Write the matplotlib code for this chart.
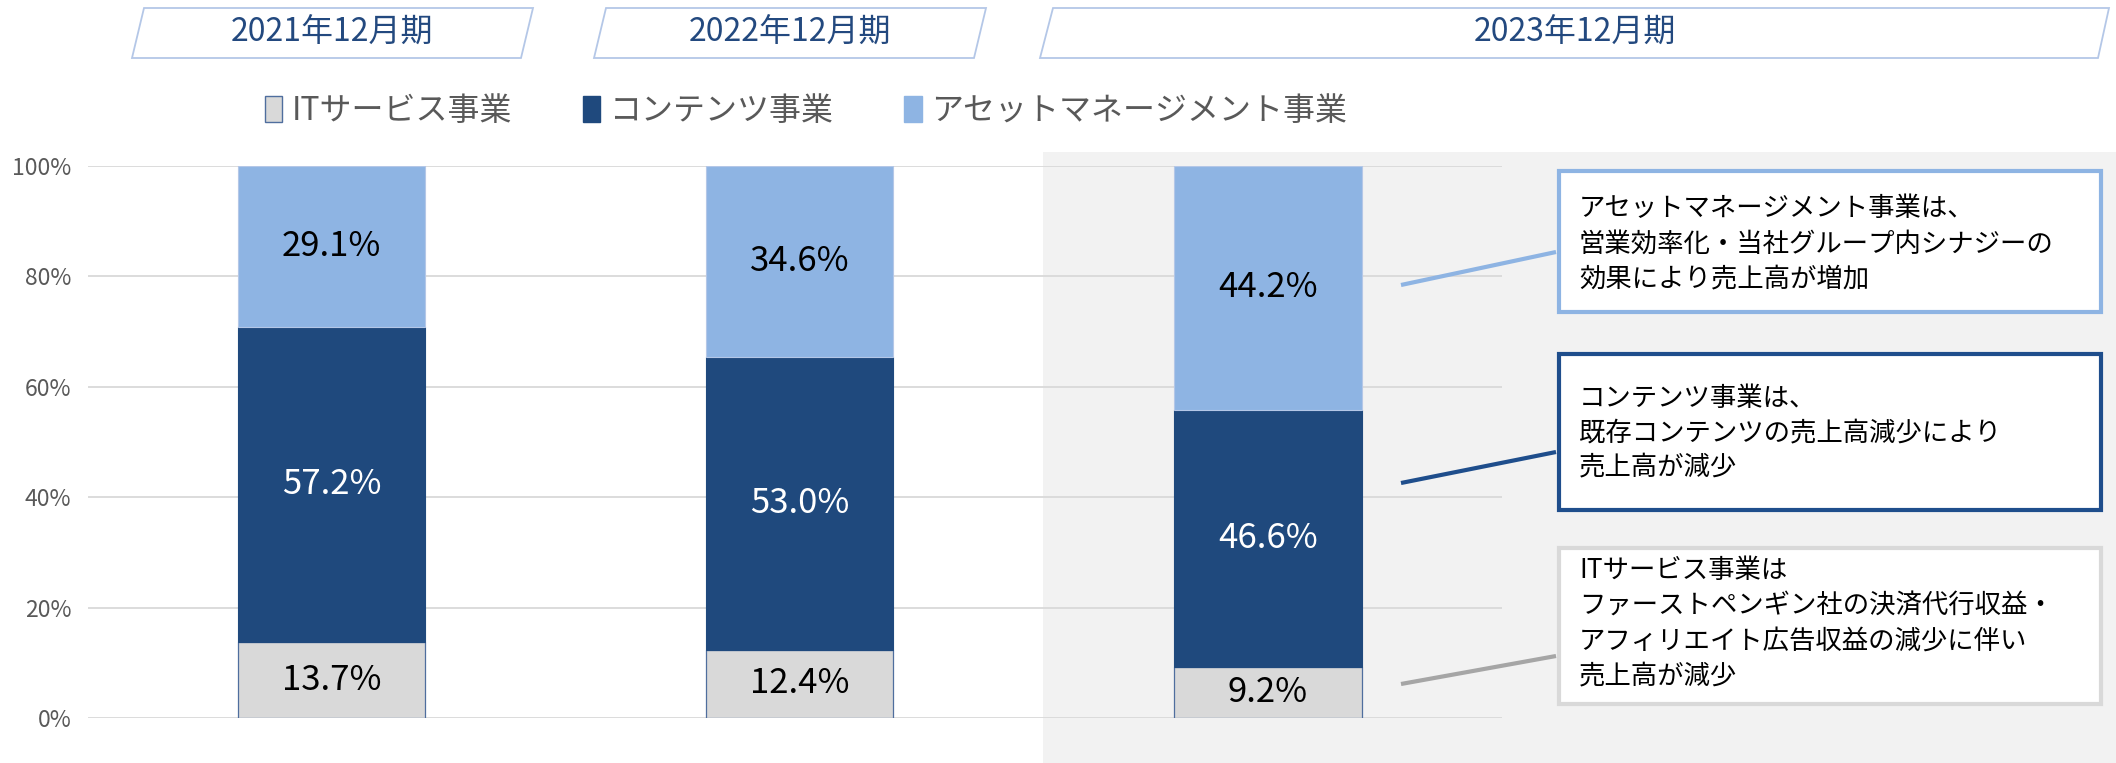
import matplotlib
matplotlib.use('Agg')
import matplotlib.pyplot as plt
from matplotlib.patches import Rectangle, Polygon
from matplotlib.lines import Line2D

plt.rcParams['font.family'] = ['Noto Sans CJK JP', 'DejaVu Sans']

# ---------------- data ----------------
periods = ['2021年12月期', '2022年12月期', '2023年12月期']
series_names = ['ITサービス事業', 'コンテンツ事業', 'アセットマネージメント事業']
it_values = [13.7, 12.4, 9.2]
contents_values = [57.2, 53.0, 46.6]
asset_values = [29.1, 34.6, 44.2]
yticks = [0, 20, 40, 60, 80, 100]
ytick_labels = ['0%', '20%', '40%', '60%', '80%', '100%']
notes = [
    ['アセットマネージメント事業は、', '営業効率化・当社グループ内シナジーの', '効果により売上高が増加'],
    ['コンテンツ事業は、', '既存コンテンツの売上高減少により', '売上高が減少'],
    ['ITサービス事業は', 'ファーストペンギン社の決済代行収益・',
     'アフィリエイト広告収益の減少に伴い', '売上高が減少'],
]

# ---------------- styles ----------------
C_IT = '#D9D9D9'
C_CONT = '#1F497D'
C_ASSET = '#8EB4E3'
C_TICK = '#595959'
C_HEAD = '#23497F'

W, H = 2116, 763
fig = plt.figure(figsize=(W / 100, H / 100), dpi=100)
fig.patch.set_facecolor('white')


def fx(px):
    return px / W


def fy(py):
    return 1 - py / H


# gray background for the latest period
fig.add_artist(Rectangle((fx(1043), 0), 1 - fx(1043), fy(152),
                         transform=fig.transFigure, facecolor='#F2F2F2',
                         edgecolor='none', zorder=-10))

ax = fig.add_axes([fx(88), fy(718), fx(1502) - fx(88), (718 - 166) / H])
ax.patch.set_visible(False)

x = list(range(len(periods)))
bw = 0.40
b1 = ax.bar(x, it_values, width=bw, color=C_IT, edgecolor='#4F6E9E', linewidth=0.9, zorder=3)
b2 = ax.bar(x, contents_values, width=bw, bottom=it_values, color=C_CONT,
            edgecolor=C_CONT, linewidth=0.8, zorder=3)
bottom3 = [a + b for a, b in zip(it_values, contents_values)]
b3 = ax.bar(x, asset_values, width=bw, bottom=bottom3, color=C_ASSET,
            edgecolor='#B4C7E7', linewidth=0.8, zorder=3)

ax.bar_label(b1, labels=[f'{v:.1f}%' for v in it_values], label_type='center',
             fontsize=25, color='black')
ax.bar_label(b2, labels=[f'{v:.1f}%' for v in contents_values], label_type='center',
             fontsize=25, color='white')
ax.bar_label(b3, labels=[f'{v:.1f}%' for v in asset_values], label_type='center',
             fontsize=25, color='black')

ax.set_xlim(-0.52, 2.5)
ax.set_ylim(0, 100)
ax.set_yticks(yticks)
ax.set_yticklabels(ytick_labels)
ax.set_xticks([])
ax.yaxis.grid(True, color='#D9D9D9', linewidth=1.3)
ax.set_axisbelow(True)
for s in ax.spines.values():
    s.set_visible(False)
ax.tick_params(axis='y', length=0, pad=12, labelsize=16.5, labelcolor=C_TICK)

# legend
handles = [Rectangle((0, 0), 1, 1, facecolor=C_IT, edgecolor='#4F6E9E', linewidth=1),
           Rectangle((0, 0), 1, 1, facecolor=C_CONT, edgecolor=C_CONT),
           Rectangle((0, 0), 1, 1, facecolor=C_ASSET, edgecolor=C_ASSET)]
fig.legend(handles, series_names, loc='center', bbox_to_anchor=(fx(806), fy(111)),
           ncol=3, frameon=False, fontsize=23, handlelength=0.55, handleheight=0.9,
           handletextpad=0.3, columnspacing=2.2, labelcolor=C_TICK)

# header parallelograms
headers = [
    [(144, 8), (533, 8), (521, 58), (132, 58)],
    [(606, 8), (986, 8), (974, 58), (594, 58)],
    [(1053, 8), (2109, 8), (2098, 58), (1040, 58)],
]
for label, pts in zip(periods, headers):
    poly = Polygon([(fx(px), fy(py)) for px, py in pts], closed=True,
                   transform=fig.transFigure, facecolor='white',
                   edgecolor='#B4C7E7', linewidth=1.3)
    fig.add_artist(poly)
    cx = sum(p[0] for p in pts) / 4
    fig.text(fx(cx), fy(33), label, ha='center', va='center', fontsize=23, color=C_HEAD)

# annotation boxes
boxes = [
    dict(rect=(1559, 171, 2101, 312), color='#8EB4E3', lines_y=[209, 244, 279],
         conn=((1401, 285), (1556, 252)), conn_color='#8EB4E3'),
    dict(rect=(1559, 354, 2101, 510), color='#1F4E8C', lines_y=[399, 433, 467],
         conn=((1401, 483), (1556, 452)), conn_color='#1F4E8C'),
    dict(rect=(1559, 548, 2101, 704), color='#D9D9D9', lines_y=[571, 606, 641, 676],
         conn=((1401, 684), (1556, 656)), conn_color='#A6A6A6'),
]
for b, txt in zip(boxes, notes):
    x0, y0, x1, y1 = b['rect']
    fig.add_artist(Rectangle((fx(x0), fy(y1)), fx(x1) - fx(x0), (y1 - y0) / H,
                             transform=fig.transFigure, facecolor='white',
                             edgecolor=b['color'], linewidth=3))
    (ax0, ay0), (ax1, ay1) = b['conn']
    fig.add_artist(Line2D([fx(ax0), fx(ax1)], [fy(ay0), fy(ay1)],
                          transform=fig.transFigure, color=b['conn_color'],
                          linewidth=3, solid_capstyle='butt'))
    for line, ly in zip(txt, b['lines_y']):
        fig.text(fx(1579), fy(ly), line, ha='left', va='center', fontsize=19, color='black')

fig.savefig('out.png', dpi=100)
